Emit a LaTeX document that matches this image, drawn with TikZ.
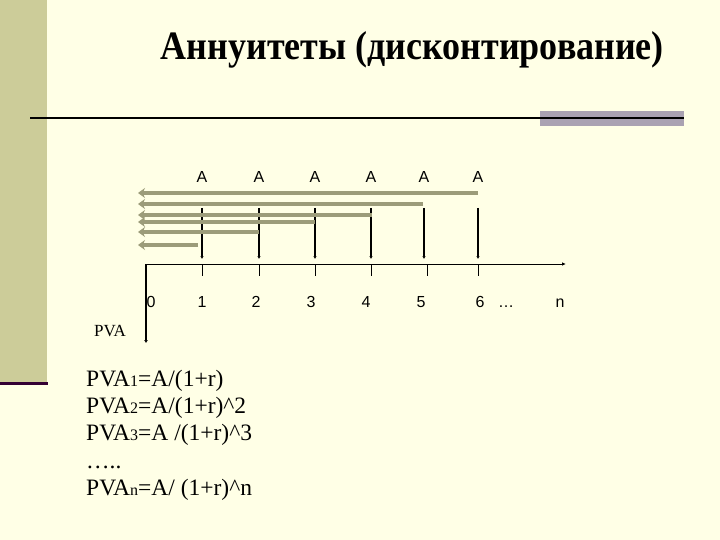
\documentclass[tikz,border=0pt]{standalone}
\usepackage{fontspec}
\setmainfont{Liberation Serif}
\setsansfont{Liberation Sans}
\definecolor{slide_bg}{RGB}{255, 255, 230}
\definecolor{slide_strip}{RGB}{204, 204, 153}
\definecolor{slide_bar}{RGB}{170, 162, 178}
\definecolor{slide_purple}{RGB}{51, 0, 51}
\definecolor{flow_gray}{RGB}{156, 156, 122}
\usetikzlibrary{arrows.meta, positioning, calc}

\begin{document}
\begin{tikzpicture}[x=1pt, y=-1pt,
    flow/.style={line width=4.5pt, flow_gray, -{Stealth[length=7pt, width=10pt]}},
    pay/.style={line width=1.5pt, -{Latex[length=3pt, width=3.5pt]}},
    lbl/.style={font=\sffamily\fontsize{16}{16}\selectfont, anchor=base},
    formula/.style={font=\fontsize{23.5}{23.5}\selectfont, anchor=base west, inner sep=0pt}]
  \useasboundingbox (0,0) rectangle (720,540);
  % Fond de la diapositive
  \fill[slide_bg] (0,0) rectangle (720,540);
  \fill[slide_strip] (0,0) rectangle (47,382);
  \fill[slide_purple] (0,382) rectangle (48,385);
  \fill[slide_bar] (540,111) rectangle (684,126);
  \draw[line width=2pt] (30,118) -- (684,118);
  \node[anchor=base, font=\bfseries\fontsize{36}{40}\selectfont] (title) at (412.5,60)
    {\scalebox{1}[1.12]{Аннуитеты (дисконтирование)}};
  % Axe du temps
  \coordinate (o) at (146,264);
  \coordinate (end) at (566,264);
  \coordinate (down) at (146,343);
  \coordinate (top) at (0,208);
  \coordinate (tip) at (0,259);
  \coordinate (left) at (138,0);
  \draw[line width=1pt, -{Latex[length=4pt, width=3.5pt]}] (o) -- (end);
  \draw[line width=2pt, -{Latex[length=3pt, width=4pt]}] (o) -- (down);
  % Versements A
  \node[lbl] (a1) at (202,183) {A};
  \node[lbl] (a2) at (259,183) {A};
  \node[lbl] (a3) at (315,183) {A};
  \node[lbl] (a4) at (371,183) {A};
  \node[lbl] (a5) at (424,183) {A};
  \node[lbl] (a6) at (478,183) {A};
  \draw[pay] (a1 |- top) -- (a1 |- tip);
  \draw[pay] (a2 |- top) -- (a2 |- tip);
  \draw[pay] (a3 |- top) -- (a3 |- tip);
  \draw[pay] (a4 |- top) -- (a4 |- tip);
  \draw[pay] (a5 |- top) -- (a5 |- tip);
  \draw[pay] (a6 |- top) -- (a6 |- tip);
  \draw (a1 |- o) -- ++(0,12);
  \draw (a2 |- o) -- ++(0,12);
  \draw (a3 |- o) -- ++(0,12);
  \draw (a4 |- o) -- ++(0,12);
  \draw (427,264) -- ++(0,12);
  \draw (a6 |- o) -- ++(0,12);
  % Actualisation (fleches grises)
  \coordinate (g6) at (478,193);
  \coordinate (g5) at (423,204);
  \coordinate (g4) at (372,215);
  \coordinate (g3) at (315,222);
  \coordinate (g2) at (259,232);
  \coordinate (g1) at (198,245);
  \draw[flow] (g6) -- (g6 -| left);
  \draw[flow] (g5) -- (g5 -| left);
  \draw[flow] (g4) -- (g4 -| left);
  \draw[flow] (g3) -- (g3 -| left);
  \draw[flow] (g2) -- (g2 -| left);
  \draw[flow] (g1) -- (g1 -| left);
  % Periodes
  \node[lbl] (n0) at (151,307) {0};
  \node[lbl] (n1) at (202,307) {1};
  \node[lbl] (n2) at (256,307) {2};
  \node[lbl] (n3) at (311,307) {3};
  \node[lbl] (n4) at (366,307) {4};
  \node[lbl] (n5) at (421,307) {5};
  \node[lbl] (n6) at (480,307) {6};
  \node[lbl] (dots) at (506,307) {\ldots};
  \node[lbl] (nn) at (560,307) {n};
  \node[anchor=base, font=\fontsize{17}{17}\selectfont] (pva) at (110,336) {PVA};
  % Formules
  \node[formula] (f1) at (86,386) {PVA{\fontsize{16}{16}\selectfont 1}=A/(1+r)};
  \node[formula] (f2) at (86,413) {PVA{\fontsize{16}{16}\selectfont 2}=A/(1+r)\^{}2};
  \node[formula] (f3) at (86,440) {PVA{\fontsize{16}{16}\selectfont 3}=A /(1+r)\^{}3};
  \node[formula] (f4) at (86,468) {…..};
  \node[formula] (f5) at (86,495) {PVA{\fontsize{16}{16}\selectfont n}=A/ (1+r)\^{}n};
\end{tikzpicture}
\end{document}
